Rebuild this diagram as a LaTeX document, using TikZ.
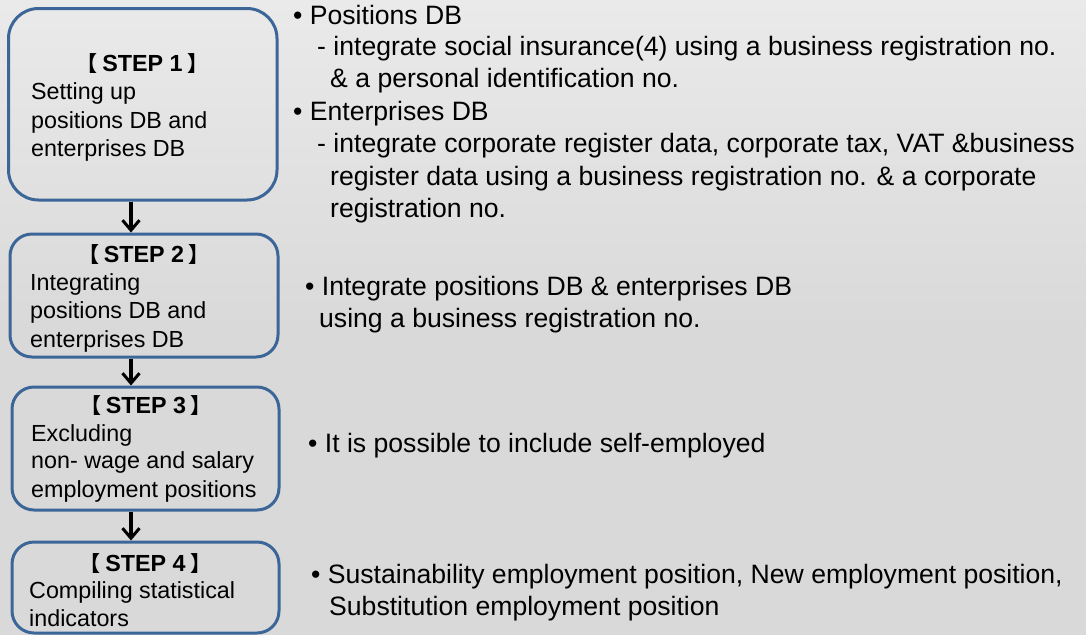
\documentclass[tikz,border=0pt]{standalone}
\usepackage{fontspec}
\setmainfont{Liberation Sans}
\newfontfamily\cjkfont[RawFeature=+palt]{Noto Sans CJK SC}
\usetikzlibrary{arrows.meta}
\definecolor{boxblue}{HTML}{3C6698}
\definecolor{bgtop}{HTML}{EAEAEA}
\definecolor{bgbot}{HTML}{D9D9D9}
\tikzset{
  stepbox/.style={draw=boxblue, line width=3pt, rectangle, inner sep=0pt},
  boxtxt/.style={anchor=base west, inner sep=0pt, font=\fontsize{23.3}{28}\selectfont},
  steptitle/.style={anchor=base, inner sep=0pt, font=\fontsize{23.3}{28}\selectfont\bfseries},
  desc/.style={anchor=base west, inner sep=0pt, font=\fontsize{26.6}{32}\selectfont},
  flowarrow/.style={line width=3.2pt, -{Straight Barb[length=10pt,width=17pt,line width=3pt]}}
}
\newcommand\stepname[1]{{\cjkfont\fontsize{21}{28}\selectfont 【}\hspace{5pt}#1\hspace{5pt}{\cjkfont\fontsize{21}{28}\selectfont 】}}
\begin{document}
\begin{tikzpicture}[x=1pt,y=-1pt]
\useasboundingbox (0,0) rectangle (1086,635);
\shade[top color=bgtop,bottom color=bgbot] (0,0) rectangle (1086,330);
\fill[bgbot] (0,329.5) rectangle (1086,635);

% boxes
\node[stepbox, minimum width=268.5pt, minimum height=191.5pt, rounded corners=30pt] (b1) at (142.75,104.25) {};
\node[stepbox, minimum width=268pt, minimum height=123pt, rounded corners=22pt] (b2) at (144,295.5) {};
\node[stepbox, minimum width=267pt, minimum height=123pt, rounded corners=22pt] (b3) at (145.5,448.5) {};
\node[stepbox, minimum width=267pt, minimum height=91pt, rounded corners=22pt] (b4) at (145.5,587.5) {};

% box texts
\node[steptitle] (s1) at (142.5,71) {\stepname{STEP 1}};
\node[boxtxt] (s1a) at (31,99) {Setting up};
\node[boxtxt] (s1b) at (31,128) {positions DB and};
\node[boxtxt] (s1c) at (31,156) {enterprises DB};

\node[steptitle] (s2) at (144,262) {\stepname{STEP 2}};
\node[boxtxt] (s2a) at (30,290) {Integrating};
\node[boxtxt] (s2b) at (30,318) {positions DB and};
\node[boxtxt] (s2c) at (30,347) {enterprises DB};

\node[steptitle] (s3) at (146,413) {\stepname{STEP 3}};
\node[boxtxt] (s3a) at (31,441) {Excluding};
\node[boxtxt] (s3b) at (31,468) {non- wage and salary};
\node[boxtxt] (s3c) at (31,497) {employment positions};

\node[steptitle] (s4) at (145.5,571) {\stepname{STEP 4}};
\node[boxtxt] (s4a) at (29,598) {Compiling statistical};
\node[boxtxt] (s4b) at (29,626) {indicators};

% arrows
\coordinate (ax) at (131,0);
\draw[flowarrow] (b1.south -| ax) -- (b2.north -| ax);
\draw[flowarrow] (b2.south -| ax) -- (b3.north -| ax);
\draw[flowarrow] (b3.south -| ax) -- (b4.north -| ax);

% descriptions
\node[desc] (d1) at (293,24) {• Positions DB};
\node[desc] (d2) at (317,55) {- integrate social insurance(4) using a business registration no.};
\node[desc] (d3) at (330,87) {\& a personal identification no.};
\node[desc] (d4) at (293,120) {• Enterprises DB};
\node[desc] (d5) at (317,152) {- integrate corporate register data, corporate tax, VAT \&business};
\node[desc] (d6) at (330,185) {register data using a business registration no. \& a corporate};
\node[desc] (d7) at (330,217) {registration no.};

\node[desc] (e1) at (305,295) {• Integrate positions DB \& enterprises DB};
\node[desc] (e2) at (319,327) {using a business registration no.};

\node[desc] (f1) at (308,452) {• It is possible to include self-employed};

\node[desc] (g1) at (311,583) {• Sustainability employment position, New employment position,};
\node[desc] (g2) at (329,615) {Substitution employment position};
\end{tikzpicture}
\end{document}
